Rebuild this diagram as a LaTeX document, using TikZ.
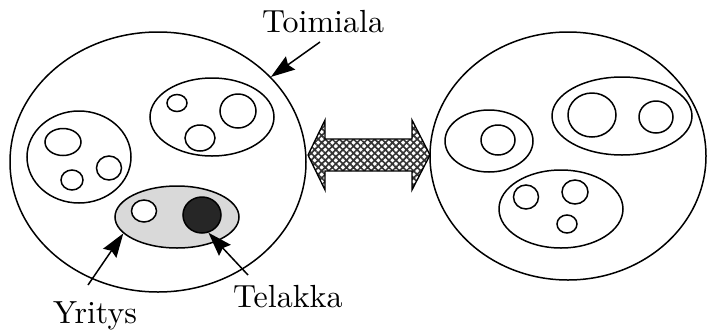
\documentclass[tikz,border=0pt]{standalone}
\usepackage{fontspec}
\newfontfamily\lblfont{lmroman10-regular.otf}
\usetikzlibrary{shapes.geometric,arrows.meta,patterns.meta}
\begin{document}
\begin{tikzpicture}[x=1pt,y=-1pt,
  ell/.style={ellipse,draw,line width=1.5pt,inner sep=0pt},
  ptr/.style={line width=1.5pt,-{Stealth[length=24pt,width=16pt,inset=3pt]}},
  lbl/.style={font=\lblfont\fontsize{32}{38}\selectfont,inner sep=0pt}]
\useasboundingbox (0,0) rectangle (707,330);
% left big circle
\node[ell,minimum width=296pt,minimum height=260pt] (L) at (158,162) {};
\node[ell,minimum width=124pt,minimum height=78pt] (L1) at (212,117) {};
\node[ell,minimum width=20pt,minimum height=17pt] (L1a) at (177,103) {};
\node[ell,minimum width=36pt,minimum height=34pt] (L1b) at (238,111) {};
\node[ell,minimum width=30pt,minimum height=26pt] (L1c) at (200,138) {};
\node[ell,minimum width=104pt,minimum height=92pt] (L2) at (79,157) {};
\node[ell,minimum width=36pt,minimum height=27pt] (L2a) at (63,142) {};
\node[ell,minimum width=22pt,minimum height=20pt] (L2b) at (72,180) {};
\node[ell,minimum width=25pt,minimum height=24pt] (L2c) at (109,168) {};
\node[ell,fill=gray!30,minimum width=124pt,minimum height=62pt] (Y) at (177,217) {};
\node[ell,fill=white,minimum width=25pt,minimum height=22pt] (Ya) at (144,211) {};
\node[ell,fill=black!85,minimum width=38pt,minimum height=36pt] (K) at (202,215) {};
% right big circle
\node[ell,minimum width=276pt,minimum height=248pt] (R) at (568,156) {};
\node[ell,minimum width=88pt,minimum height=62pt] (R1) at (489,141) {};
\node[ell,minimum width=34pt,minimum height=30pt] (R1a) at (498,140) {};
\node[ell,minimum width=140pt,minimum height=78pt] (R2) at (622,116) {};
\node[ell,minimum width=48pt,minimum height=44pt] (R2a) at (592,115) {};
\node[ell,minimum width=34pt,minimum height=32pt] (R2b) at (656,117) {};
\node[ell,minimum width=124pt,minimum height=78pt] (R3) at (561,209) {};
\node[ell,minimum width=25pt,minimum height=24pt] (R3a) at (526,197) {};
\node[ell,minimum width=26pt,minimum height=24pt] (R3b) at (575,192) {};
\node[ell,minimum width=20pt,minimum height=18pt] (R3c) at (567,224) {};
% double arrow
\draw[line width=1.3pt,pattern={Hatch[angle=45,distance=5pt,line width=1.7pt]},pattern color=black!80]
  (308,155) -- (325,120) -- (325,139) -- (412,139) -- (412,120) -- (430,155)
  -- (412,190) -- (412,171) -- (325,171) -- (325,190) -- cycle;
% labels
\node[lbl,anchor=base west] (toim) at (262,32) {Toimiala};
\node[lbl,anchor=base west] (yri) at (53,323) {Yritys};
\node[lbl,anchor=base west] (tel) at (233,307) {Telakka};
\coordinate (t1) at (320,42);
\coordinate (y1) at (88,285);
\coordinate (k1) at (248,275);
\draw[ptr] (t1) -- (L.37);
\draw[ptr] (y1) -- (Y.-163);
\draw[ptr] (k1) -- (K.-70);
\end{tikzpicture}
\end{document}
